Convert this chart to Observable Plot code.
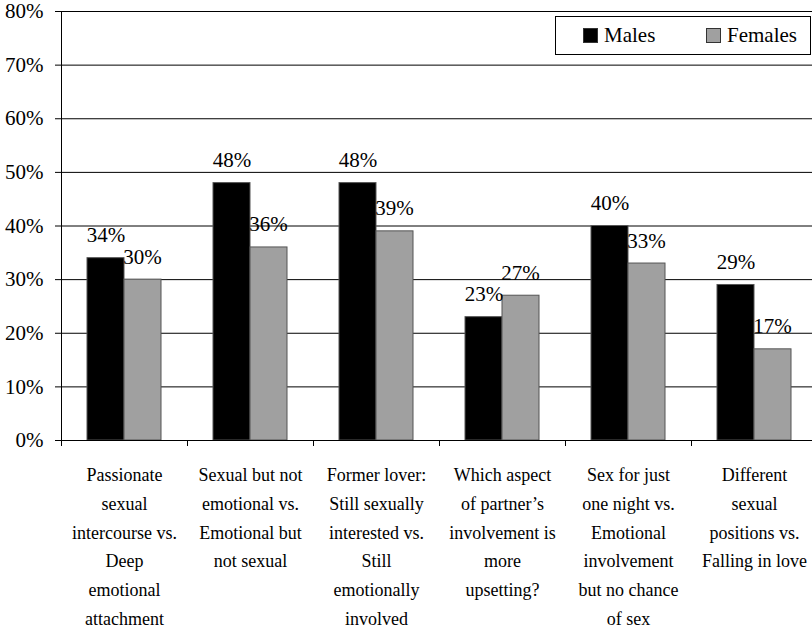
<!DOCTYPE html>
<html>
<head>
<meta charset="utf-8">
<script src="https://cdn.jsdelivr.net/npm/d3@7"></script>
<script src="https://cdn.jsdelivr.net/npm/@observablehq/plot@0.6"></script>
<style>
  html, body { margin: 0; padding: 0; background: #fff; overflow: hidden; }
  #wrap { position: relative; width: 812px; height: 631px; font-family: "Liberation Serif", "Times New Roman", serif; }
  #wrap svg, #wrap svg text { font-family: "Liberation Serif", "Times New Roman", serif !important; }
  #legend { position: absolute; left: 555px; top: 16px; width: 254px; height: 37px; border: 1px solid #000; background: #fff; font-size: 21px; color: #000; }
  .item { position: absolute; top: 0; height: 37px; display: flex; align-items: center; }
  .sw { width: 13px; height: 13px; border: 1px solid #333; margin-right: 6px; }
</style>
</head>
<body>
<div id="wrap"></div>
<script>
const categories = [
  "Passionate\nsexual\nintercourse vs.\nDeep\nemotional\nattachment",
  "Sexual but not\nemotional vs.\nEmotional but\nnot sexual",
  "Former lover:\nStill sexually\ninterested vs.\nStill\nemotionally\ninvolved",
  "Which aspect\nof partner\u2019s\ninvolvement is\nmore\nupsetting?",
  "Sex for just\none night vs.\nEmotional\ninvolvement\nbut no chance\nof sex",
  "Different\nsexual\npositions vs.\nFalling in love"
];
const males = [34, 48, 48, 23, 40, 29];
const females = [30, 36, 39, 27, 33, 17];
const seriesNames = ["Males", "Females"];
const yTicks = [0, 10, 20, 30, 40, 50, 60, 70, 80];

const maleRows = categories.map((c, i) => ({category: c, value: males[i]}));
const femaleRows = categories.map((c, i) => ({category: c, value: females[i]}));

const W = 812, H = 631, mL = 61, mT = 11, mB = 191;
const xRange = [61, 817];
const bw = (xRange[1] - xRange[0]) / categories.length;
const plotH = H - mT - mB;
const maleColor = "#000000", femaleColor = "#a0a0a0", barStroke = "#555";
const serif = "Liberation Serif";

const chart = Plot.plot({
  width: W, height: H,
  marginLeft: mL, marginTop: mT, marginBottom: mB, marginRight: 0,
  style: {fontFamily: serif, fontSize: "21px", color: "#000", background: "transparent"},
  x: {domain: categories, range: xRange, padding: 0, axis: null},
  y: {domain: [0, 80]},
  marks: [
    Plot.ruleY(yTicks, {stroke: "#000", strokeWidth: 1}),
    Plot.barY(maleRows, {x: "category", y: "value", fill: maleColor, stroke: barStroke, strokeWidth: 1, insetLeft: 26, insetRight: 63}),
    Plot.barY(femaleRows, {x: "category", y: "value", fill: femaleColor, stroke: barStroke, strokeWidth: 1, insetLeft: 63, insetRight: 26}),
    Plot.ruleY([0], {stroke: "#000"}),
    Plot.ruleX([categories[0]], {dx: -bw / 2, stroke: "#000", insetBottom: -6}),
    Plot.ruleX(categories.slice(1), {dx: -bw / 2, stroke: "#000", insetTop: plotH, insetBottom: -6}),
    Plot.axisY({ticks: yTicks, tickSize: 6, tickPadding: 12, tickFormat: d => d + "%", fontSize: 21, fontFamily: serif, label: null}),
    Plot.text(maleRows, {x: "category", y: "value", text: d => d.value + "%", dx: -18.5, dy: -16, lineAnchor: "bottom", fontSize: 21, fontFamily: serif, fill: "#000"}),
    Plot.text(femaleRows, {x: "category", y: "value", text: d => d.value + "%", dx: 18, dy: -16, lineAnchor: "bottom", fontSize: 21, fontFamily: serif, fill: "#000"}),
    Plot.text(categories, {x: d => d, text: d => d, frameAnchor: "bottom", lineAnchor: "top", dy: 20, lineHeight: 1.6, fontSize: 18, fontFamily: serif, fill: "#000"})
  ]
});

const wrap = document.getElementById("wrap");
wrap.appendChild(chart);

const legend = document.createElement("div");
legend.id = "legend";
const colors = [maleColor, femaleColor];
const lefts = [27, 150];
seriesNames.forEach((name, i) => {
  const item = document.createElement("div");
  item.className = "item";
  item.style.left = lefts[i] + "px";
  const sw = document.createElement("div");
  sw.className = "sw";
  sw.style.background = colors[i];
  const label = document.createElement("span");
  label.textContent = name;
  item.appendChild(sw);
  item.appendChild(label);
  legend.appendChild(item);
});
wrap.appendChild(legend);
</script>
</body>
</html>
